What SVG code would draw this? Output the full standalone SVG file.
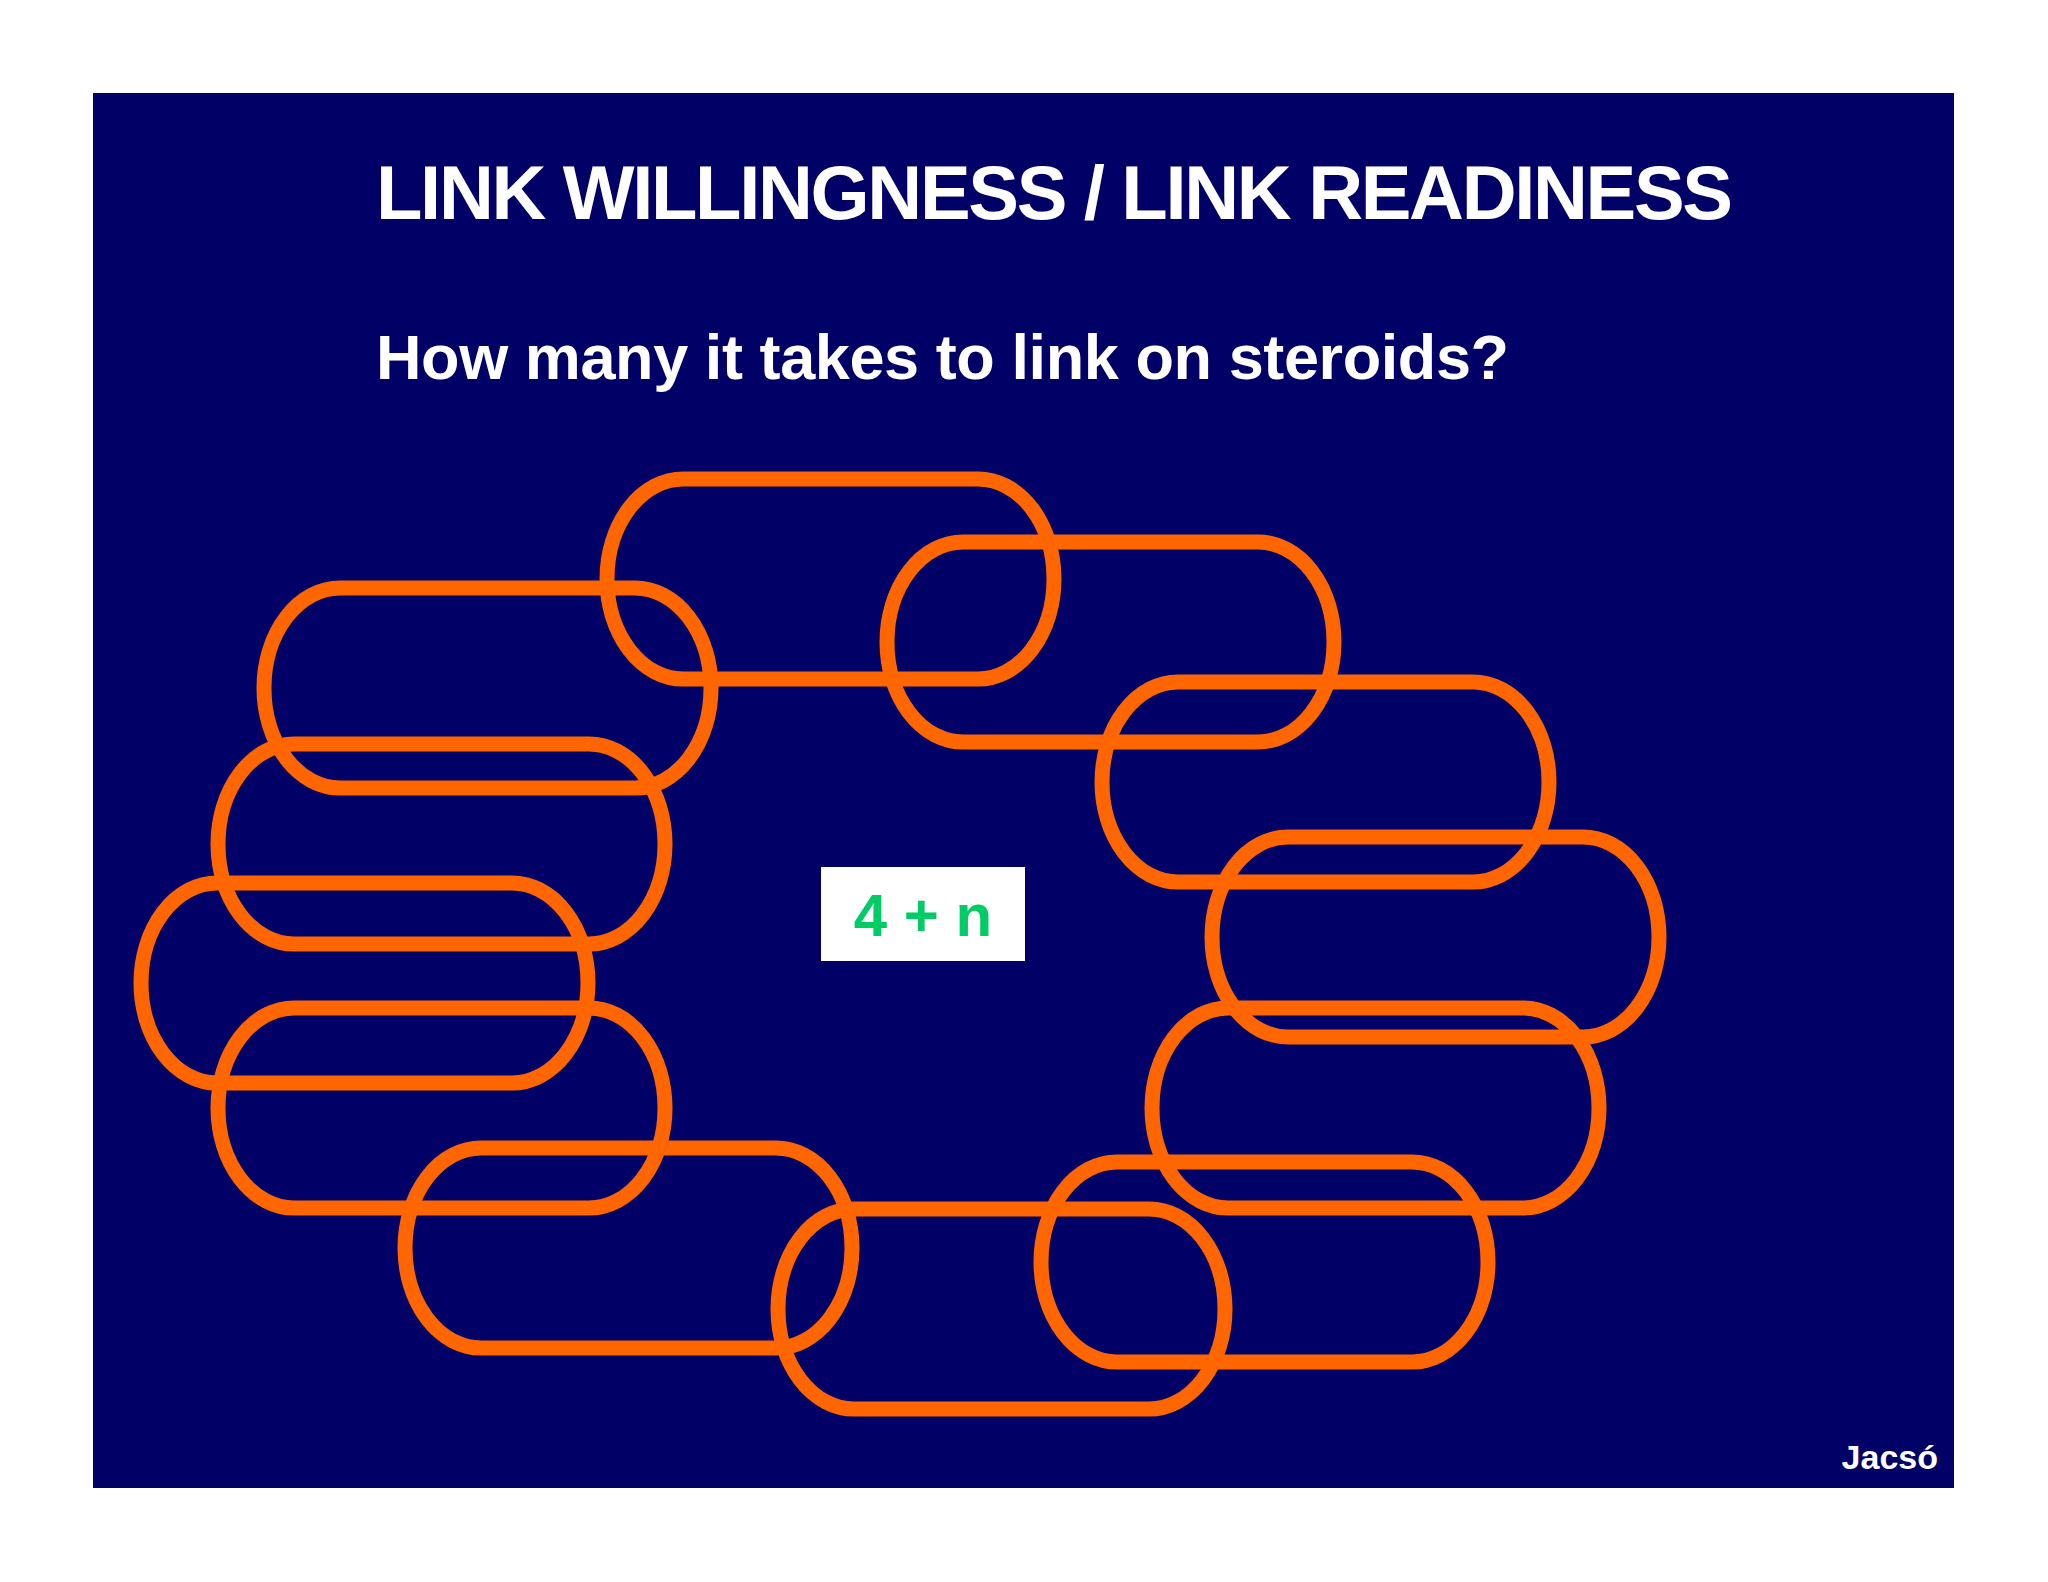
<svg xmlns="http://www.w3.org/2000/svg" width="2048" height="1582" viewBox="0 0 2048 1582">
<style>
.l{fill:none;stroke:#FF6600;stroke-width:15}
.t{font-family:"Liberation Sans",Arial,sans-serif;font-weight:bold;fill:#fff}
</style>
<rect width="2048" height="1582" fill="#fff"/>
<rect x="93" y="93" width="1861" height="1395" fill="#000066"/>
<text class="t" x="376" y="219" font-size="76" textLength="1357">LINK WILLINGNESS / LINK READINESS</text>
<text class="t" x="376" y="379" font-size="63" textLength="1133">How many it takes to link on steroids?</text>
<g id="links">
<rect class="l" x="607" y="479" width="447" height="200" rx="76" ry="100"/>
<rect class="l" x="887" y="542" width="447" height="200" rx="76" ry="100"/>
<rect class="l" x="1102" y="682" width="447" height="200" rx="76" ry="100"/>
<rect class="l" x="1212" y="837" width="447" height="200" rx="76" ry="100"/>
<rect class="l" x="1152" y="1008" width="447" height="200" rx="76" ry="100"/>
<rect class="l" x="1041" y="1162" width="447" height="200" rx="76" ry="100"/>
<rect class="l" x="778" y="1209" width="447" height="200" rx="76" ry="100"/>
<rect class="l" x="405" y="1148" width="447" height="200" rx="76" ry="100"/>
<rect class="l" x="218" y="1008" width="447" height="200" rx="76" ry="100"/>
<rect class="l" x="141" y="883" width="447" height="200" rx="76" ry="100"/>
<rect class="l" x="218" y="744" width="447" height="200" rx="76" ry="100"/>
<rect class="l" x="264" y="588" width="447" height="200" rx="76" ry="100"/>
</g>
<g id="label">
<rect x="821" y="867" width="204" height="94" fill="#fff"/>
<text x="923" y="936" font-size="60" text-anchor="middle" font-family="Liberation Sans,Arial,sans-serif" font-weight="bold" fill="#00CC66">4 + n</text>
</g>
<text class="t" x="1938" y="1469" font-size="34" text-anchor="end">Jacsó</text>
</svg>
